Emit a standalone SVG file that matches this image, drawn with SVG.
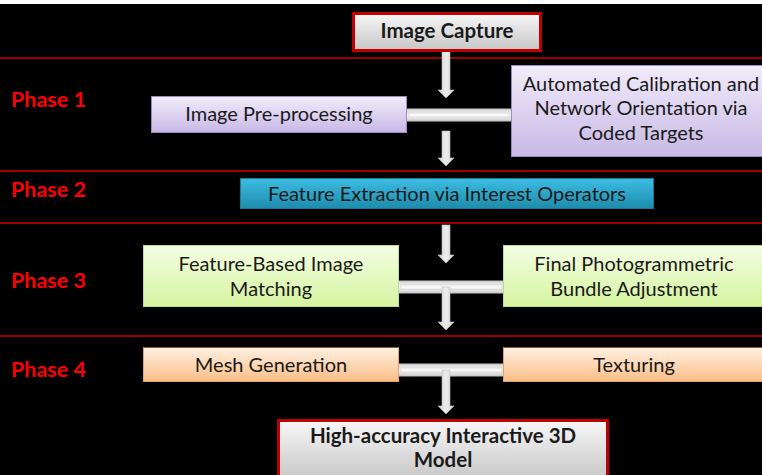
<svg xmlns="http://www.w3.org/2000/svg" width="762" height="475" viewBox="0 0 762 475">
  <defs>
    <linearGradient id="gGray" x1="0" y1="0" x2="0" y2="1">
      <stop offset="0" stop-color="#f7f7f7"/>
      <stop offset="1" stop-color="#c6c6c6"/>
    </linearGradient>
    <linearGradient id="gLav" x1="0" y1="0" x2="0" y2="1">
      <stop offset="0" stop-color="#f1ecfa"/>
      <stop offset="1" stop-color="#c8b8e6"/>
    </linearGradient>
    <linearGradient id="gTeal" x1="0" y1="0" x2="0" y2="1">
      <stop offset="0" stop-color="#3cbde3"/>
      <stop offset="1" stop-color="#1d8cac"/>
    </linearGradient>
    <linearGradient id="gGreen" x1="0" y1="0" x2="0" y2="1">
      <stop offset="0" stop-color="#f5fde3"/>
      <stop offset="1" stop-color="#d5f4a0"/>
    </linearGradient>
    <linearGradient id="gPeach" x1="0" y1="0" x2="0" y2="1">
      <stop offset="0" stop-color="#fff1e3"/>
      <stop offset="1" stop-color="#fbbe86"/>
    </linearGradient>
    <linearGradient id="gBar" x1="0" y1="0" x2="0" y2="1">
      <stop offset="0" stop-color="#d6d6d6"/>
      <stop offset="0.5" stop-color="#f4f4f4"/>
      <stop offset="1" stop-color="#d0d0d0"/>
    </linearGradient>
    <linearGradient id="gShaft" x1="0" y1="0" x2="1" y2="0">
      <stop offset="0" stop-color="#cfcfcf"/>
      <stop offset="0.5" stop-color="#ededed"/>
      <stop offset="1" stop-color="#cfcfcf"/>
    </linearGradient>
  </defs>
  <style>
    text { font-family: Lato, "Open Sans", "Liberation Sans", sans-serif; font-size: 20px; fill: #1a1a1a; text-anchor: middle; }
    .bold { font-weight: bold; font-size: 20.5px; }
    .phase { font-weight: bold; fill: #ff0000; text-anchor: start; font-size: 21.5px; }
    .sep { stroke: #d00000; stroke-width: 1.6; }
    .sepDark { stroke: #a00000; stroke-width: 2; }
    .endBox { fill: url(#gGray); stroke: #c00000; stroke-width: 3; }
    .lav { fill: url(#gLav); stroke: #9d89c6; stroke-width: 1; }
    .teal { fill: url(#gTeal); stroke: #1a7a96; stroke-width: 1; }
    .green { fill: url(#gGreen); stroke: #b9dc90; stroke-width: 1; }
    .peach { fill: url(#gPeach); stroke: #e3a566; stroke-width: 1; }
    .bar { fill: url(#gBar); stroke: #c4c4c4; stroke-width: 1; }
    .shaft { fill: url(#gShaft); stroke: #c0c0c0; stroke-width: 0.6; }
    .inner { fill: #f8f8f8; stroke: #cfcfcf; stroke-width: 0.6; }
  </style>

  <!-- backdrop -->
  <rect x="0" y="0" width="762" height="475" fill="#000000"/>
  <rect x="0" y="0" width="762" height="4" fill="#ffffff"/>

  <!-- phase separators and labels -->
  <g id="phases">
    <line class="sep" x1="0" y1="58" x2="762" y2="58"/>
    <line class="sep" x1="0" y1="171" x2="762" y2="171"/>
    <line class="sep" x1="0" y1="223" x2="762" y2="223"/>
    <line class="sepDark" x1="0" y1="336" x2="762" y2="336"/>
    <text class="phase" x="11" y="107">Phase 1</text>
    <text class="phase" x="11" y="197">Phase 2</text>
    <text class="phase" x="11" y="288">Phase 3</text>
    <text class="phase" x="11" y="377">Phase 4</text>
  </g>

  <!-- connectors: horizontal bars and downward block arrows -->
  <g id="connectors">
    <rect class="bar" x="405" y="109" width="108" height="12" rx="2"/>
    <rect class="inner" x="409" y="113" width="100" height="4"/>
    <rect class="bar" x="397" y="281" width="109" height="12" rx="2"/>
    <rect class="inner" x="401" y="285" width="101" height="4"/>
    <rect class="bar" x="397" y="364" width="109" height="12" rx="2"/>
    <rect class="inner" x="401" y="368" width="101" height="4"/>

    <path class="shaft" d="M442 51 H450 V90 H454 L446 98 L438 90 H442 Z"/>
    <path class="shaft" d="M442 131 H450 V158 H454 L446 166 L438 158 H442 Z"/>
    <path class="shaft" d="M442 225 H450 V255 H454 L446 263 L438 255 H442 Z"/>
    <path class="shaft" d="M442 287 H450 V322 H454 L446 330 L438 322 H442 Z"/>
    <path class="shaft" d="M442 370 H450 V406 H454 L446 414 L438 406 H442 Z"/>
  </g>

  <g id="image-capture">
    <rect class="endBox" x="353.5" y="13.5" width="187" height="37"/>
    <text class="bold" x="447" y="38">Image Capture</text>
  </g>

  <g id="pre-processing">
    <rect class="lav" x="151.5" y="96.5" width="255" height="36"/>
    <text x="279" y="121">Image Pre-processing</text>
  </g>

  <g id="calibration">
    <rect class="lav" x="511.5" y="65.5" width="260" height="91"/>
    <text x="641" y="91">Automated Calibration and</text>
    <text x="641" y="115">Network Orientation via</text>
    <text x="641" y="140">Coded Targets</text>
  </g>

  <g id="feature-extraction">
    <rect class="teal" x="240.5" y="178.5" width="413" height="30"/>
    <text x="447" y="201" fill="#0d1a20">Feature Extraction via Interest Operators</text>
  </g>

  <g id="image-matching">
    <rect class="green" x="143.5" y="245.5" width="255" height="61"/>
    <text x="271" y="271">Feature-Based Image</text>
    <text x="271" y="296">Matching</text>
  </g>

  <g id="bundle-adjustment">
    <rect class="green" x="503.5" y="245.5" width="265" height="61"/>
    <text x="634" y="271">Final Photogrammetric</text>
    <text x="634" y="296">Bundle Adjustment</text>
  </g>

  <g id="mesh-generation">
    <rect class="peach" x="143.5" y="347.5" width="255" height="34"/>
    <line x1="143.5" y1="347.5" x2="398.5" y2="347.5" stroke="#8a5a32" stroke-width="1"/>
    <text x="271" y="372">Mesh Generation</text>
  </g>

  <g id="texturing">
    <rect class="peach" x="503.5" y="347.5" width="265" height="34"/>
    <line x1="503.5" y1="347.5" x2="762" y2="347.5" stroke="#8a5a32" stroke-width="1"/>
    <text x="634" y="372">Texturing</text>
  </g>

  <g id="model">
    <rect class="endBox" x="278.5" y="420.5" width="329" height="60"/>
    <text class="bold" x="443" y="443">High-accuracy Interactive 3D</text>
    <text class="bold" x="443" y="467">Model</text>
  </g>
</svg>
